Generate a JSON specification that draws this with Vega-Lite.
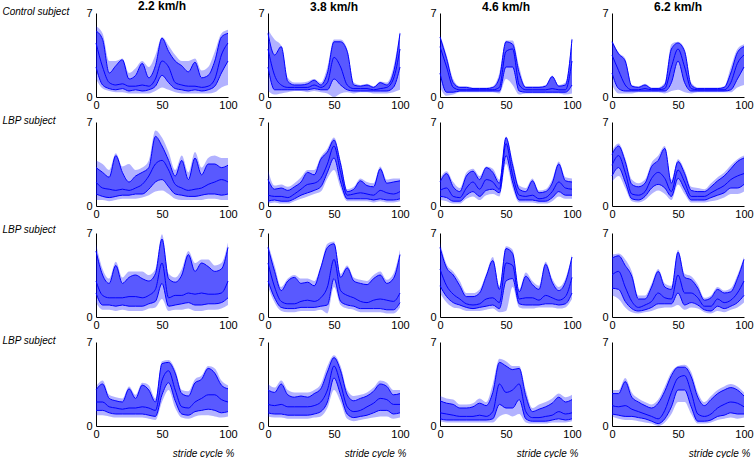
{
"$schema":"https://vega.github.io/schema/vega-lite/v6.json",
"padding":{"left":2,"top":0,"right":0,"bottom":0},
"background":"white",
"data":{"values":[
{"r":1,"c":1,"x":0,"lo":1.5,"hi":5.9,"p":5.5,"m":4.5,"s":2.5},
{"r":1,"c":1,"x":5,"lo":0.7,"hi":5.3,"p":4.8,"m":2.5,"s":1.0},
{"r":1,"c":1,"x":10,"lo":0.5,"hi":3.0,"p":2.0,"m":1.2,"s":0.7},
{"r":1,"c":1,"x":15,"lo":0.4,"hi":3.0,"p":2.6,"m":1.0,"s":0.6},
{"r":1,"c":1,"x":20,"lo":0.4,"hi":3.2,"p":3.1,"m":1.1,"s":0.7},
{"r":1,"c":1,"x":25,"lo":0.3,"hi":2.0,"p":1.5,"m":0.9,"s":0.5},
{"r":1,"c":1,"x":30,"lo":0.3,"hi":2.4,"p":1.8,"m":0.9,"s":0.6},
{"r":1,"c":1,"x":35,"lo":0.3,"hi":3.0,"p":2.8,"m":1.0,"s":0.5},
{"r":1,"c":1,"x":40,"lo":0.3,"hi":2.5,"p":1.6,"m":0.9,"s":0.6},
{"r":1,"c":1,"x":45,"lo":0.5,"hi":3.5,"p":2.6,"m":1.5,"s":0.9},
{"r":1,"c":1,"x":50,"lo":0.8,"hi":5.0,"p":4.9,"m":3.0,"s":1.8},
{"r":1,"c":1,"x":55,"lo":0.6,"hi":4.3,"p":3.8,"m":2.5,"s":1.2},
{"r":1,"c":1,"x":60,"lo":0.4,"hi":3.5,"p":3.0,"m":1.2,"s":0.7},
{"r":1,"c":1,"x":65,"lo":0.3,"hi":3.0,"p":2.6,"m":1.0,"s":0.6},
{"r":1,"c":1,"x":70,"lo":0.3,"hi":3.0,"p":2.1,"m":0.9,"s":0.5},
{"r":1,"c":1,"x":75,"lo":0.3,"hi":3.2,"p":2.9,"m":0.9,"s":0.6},
{"r":1,"c":1,"x":80,"lo":0.3,"hi":2.2,"p":1.6,"m":0.8,"s":0.5},
{"r":1,"c":1,"x":85,"lo":0.3,"hi":2.5,"p":1.8,"m":0.9,"s":0.6},
{"r":1,"c":1,"x":90,"lo":0.4,"hi":3.8,"p":3.0,"m":1.5,"s":0.9},
{"r":1,"c":1,"x":95,"lo":0.8,"hi":5.3,"p":5.0,"m":3.5,"s":2.0},
{"r":1,"c":1,"x":100,"lo":1.0,"hi":5.6,"p":5.3,"m":4.5,"s":3.0},
{"r":1,"c":2,"x":0,"lo":0.5,"hi":5.6,"p":5.3,"m":4.0,"s":2.5},
{"r":1,"c":2,"x":5,"lo":0.2,"hi":4.8,"p":3.5,"m":1.8,"s":0.6},
{"r":1,"c":2,"x":10,"lo":0.3,"hi":4.3,"p":4.2,"m":1.0,"s":0.6},
{"r":1,"c":2,"x":15,"lo":0.4,"hi":1.6,"p":1.3,"m":0.8,"s":0.6},
{"r":1,"c":2,"x":20,"lo":0.5,"hi":1.2,"p":1.0,"m":0.8,"s":0.6},
{"r":1,"c":2,"x":25,"lo":0.5,"hi":1.2,"p":1.0,"m":0.8,"s":0.6},
{"r":1,"c":2,"x":30,"lo":0.4,"hi":1.3,"p":1.1,"m":0.8,"s":0.6},
{"r":1,"c":2,"x":35,"lo":0.5,"hi":1.5,"p":1.4,"m":1.0,"s":0.7},
{"r":1,"c":2,"x":40,"lo":0.4,"hi":1.2,"p":1.0,"m":0.8,"s":0.6},
{"r":1,"c":2,"x":45,"lo":0.3,"hi":2.5,"p":2.0,"m":1.2,"s":0.6},
{"r":1,"c":2,"x":50,"lo":0.0,"hi":4.8,"p":4.6,"m":3.3,"s":1.5},
{"r":1,"c":2,"x":55,"lo":0.3,"hi":4.8,"p":4.6,"m":2.5,"s":1.0},
{"r":1,"c":2,"x":60,"lo":0.4,"hi":4.0,"p":3.8,"m":1.0,"s":0.6},
{"r":1,"c":2,"x":65,"lo":0.3,"hi":1.2,"p":1.0,"m":0.7,"s":0.5},
{"r":1,"c":2,"x":70,"lo":0.4,"hi":1.0,"p":0.9,"m":0.7,"s":0.5},
{"r":1,"c":2,"x":75,"lo":0.4,"hi":1.1,"p":1.0,"m":0.7,"s":0.5},
{"r":1,"c":2,"x":80,"lo":0.3,"hi":0.9,"p":0.8,"m":0.6,"s":0.5},
{"r":1,"c":2,"x":85,"lo":0.3,"hi":1.3,"p":1.2,"m":0.7,"s":0.5},
{"r":1,"c":2,"x":90,"lo":0.3,"hi":1.2,"p":1.0,"m":0.8,"s":0.5},
{"r":1,"c":2,"x":95,"lo":0.4,"hi":2.5,"p":2.0,"m":1.5,"s":0.8},
{"r":1,"c":2,"x":100,"lo":0.6,"hi":5.5,"p":5.3,"m":4.0,"s":2.5},
{"r":1,"c":3,"x":0,"lo":0.8,"hi":5.2,"p":5.0,"m":4.2,"s":2.0},
{"r":1,"c":3,"x":5,"lo":0.1,"hi":3.5,"p":3.2,"m":2.5,"s":0.4},
{"r":1,"c":3,"x":10,"lo":0.2,"hi":1.5,"p":1.2,"m":0.8,"s":0.4},
{"r":1,"c":3,"x":15,"lo":0.4,"hi":0.9,"p":0.8,"m":0.6,"s":0.5},
{"r":1,"c":3,"x":20,"lo":0.4,"hi":0.9,"p":0.8,"m":0.6,"s":0.5},
{"r":1,"c":3,"x":25,"lo":0.4,"hi":0.8,"p":0.7,"m":0.6,"s":0.5},
{"r":1,"c":3,"x":30,"lo":0.4,"hi":0.8,"p":0.7,"m":0.6,"s":0.5},
{"r":1,"c":3,"x":35,"lo":0.4,"hi":0.8,"p":0.7,"m":0.6,"s":0.5},
{"r":1,"c":3,"x":40,"lo":0.4,"hi":0.9,"p":0.8,"m":0.6,"s":0.5},
{"r":1,"c":3,"x":45,"lo":0.3,"hi":2.0,"p":1.6,"m":0.8,"s":0.5},
{"r":1,"c":3,"x":50,"lo":1.5,"hi":4.7,"p":4.6,"m":3.8,"s":2.5},
{"r":1,"c":3,"x":55,"lo":1.0,"hi":4.7,"p":4.4,"m":4.0,"s":2.5},
{"r":1,"c":3,"x":60,"lo":0.2,"hi":2.5,"p":2.0,"m":1.0,"s":0.5},
{"r":1,"c":3,"x":65,"lo":0.3,"hi":0.9,"p":0.8,"m":0.6,"s":0.4},
{"r":1,"c":3,"x":70,"lo":0.3,"hi":0.9,"p":0.8,"m":0.6,"s":0.4},
{"r":1,"c":3,"x":75,"lo":0.3,"hi":0.9,"p":0.8,"m":0.6,"s":0.4},
{"r":1,"c":3,"x":80,"lo":0.3,"hi":1.0,"p":0.9,"m":0.6,"s":0.4},
{"r":1,"c":3,"x":85,"lo":0.3,"hi":1.8,"p":1.7,"m":0.7,"s":0.4},
{"r":1,"c":3,"x":90,"lo":0.3,"hi":1.0,"p":0.9,"m":0.6,"s":0.4},
{"r":1,"c":3,"x":95,"lo":0.2,"hi":1.2,"p":1.0,"m":0.6,"s":0.4},
{"r":1,"c":3,"x":100,"lo":0.3,"hi":5.0,"p":4.8,"m":3.0,"s":1.0},
{"r":1,"c":4,"x":0,"lo":1.0,"hi":4.8,"p":4.6,"m":3.5,"s":2.0},
{"r":1,"c":4,"x":5,"lo":0.3,"hi":3.7,"p":3.6,"m":2.2,"s":0.7},
{"r":1,"c":4,"x":10,"lo":0.3,"hi":3.2,"p":3.0,"m":1.0,"s":0.5},
{"r":1,"c":4,"x":15,"lo":0.3,"hi":1.0,"p":0.9,"m":0.6,"s":0.5},
{"r":1,"c":4,"x":20,"lo":0.4,"hi":0.9,"p":0.8,"m":0.6,"s":0.5},
{"r":1,"c":4,"x":25,"lo":0.4,"hi":1.1,"p":1.0,"m":0.7,"s":0.5},
{"r":1,"c":4,"x":30,"lo":0.4,"hi":0.8,"p":0.7,"m":0.6,"s":0.5},
{"r":1,"c":4,"x":35,"lo":0.4,"hi":0.8,"p":0.7,"m":0.6,"s":0.5},
{"r":1,"c":4,"x":40,"lo":0.3,"hi":1.2,"p":1.0,"m":0.7,"s":0.5},
{"r":1,"c":4,"x":45,"lo":0.5,"hi":4.4,"p":4.0,"m":2.5,"s":1.2},
{"r":1,"c":4,"x":50,"lo":0.6,"hi":4.6,"p":4.5,"m":4.0,"s":3.0},
{"r":1,"c":4,"x":55,"lo":0.4,"hi":4.0,"p":3.8,"m":2.5,"s":1.2},
{"r":1,"c":4,"x":60,"lo":0.3,"hi":1.2,"p":1.0,"m":0.7,"s":0.5},
{"r":1,"c":4,"x":65,"lo":0.4,"hi":0.8,"p":0.7,"m":0.6,"s":0.5},
{"r":1,"c":4,"x":70,"lo":0.4,"hi":0.8,"p":0.7,"m":0.6,"s":0.5},
{"r":1,"c":4,"x":75,"lo":0.4,"hi":0.8,"p":0.7,"m":0.6,"s":0.5},
{"r":1,"c":4,"x":80,"lo":0.4,"hi":0.8,"p":0.7,"m":0.6,"s":0.5},
{"r":1,"c":4,"x":85,"lo":0.4,"hi":0.9,"p":0.8,"m":0.6,"s":0.5},
{"r":1,"c":4,"x":90,"lo":0.4,"hi":2.5,"p":2.0,"m":1.2,"s":0.6},
{"r":1,"c":4,"x":95,"lo":0.8,"hi":4.0,"p":3.7,"m":2.8,"s":1.5},
{"r":1,"c":4,"x":100,"lo":1.0,"hi":4.4,"p":4.2,"m":3.5,"s":2.5},
{"r":2,"c":1,"x":0,"lo":0.5,"hi":3.8,"p":3.2,"m":2.0,"s":1.0},
{"r":2,"c":1,"x":5,"lo":0.5,"hi":3.5,"p":2.8,"m":1.5,"s":0.8},
{"r":2,"c":1,"x":10,"lo":0.4,"hi":3.0,"p":2.4,"m":1.4,"s":0.7},
{"r":2,"c":1,"x":15,"lo":0.5,"hi":4.4,"p":4.2,"m":1.3,"s":0.8},
{"r":2,"c":1,"x":20,"lo":0.6,"hi":3.3,"p":2.8,"m":1.4,"s":0.9},
{"r":2,"c":1,"x":25,"lo":0.6,"hi":3.5,"p":2.0,"m":1.3,"s":0.9},
{"r":2,"c":1,"x":30,"lo":0.6,"hi":3.0,"p":2.5,"m":1.5,"s":1.0},
{"r":2,"c":1,"x":35,"lo":0.7,"hi":3.2,"p":2.8,"m":1.8,"s":1.0},
{"r":2,"c":1,"x":40,"lo":0.9,"hi":3.8,"p":3.2,"m":2.5,"s":1.4},
{"r":2,"c":1,"x":45,"lo":1.2,"hi":6.3,"p":5.8,"m":3.5,"s":2.0},
{"r":2,"c":1,"x":50,"lo":1.3,"hi":5.7,"p":5.0,"m":3.8,"s":2.2},
{"r":2,"c":1,"x":55,"lo":1.0,"hi":4.5,"p":3.8,"m":3.0,"s":1.6},
{"r":2,"c":1,"x":60,"lo":0.6,"hi":3.0,"p":2.5,"m":1.8,"s":1.0},
{"r":2,"c":1,"x":65,"lo":0.5,"hi":4.2,"p":3.8,"m":1.5,"s":0.9},
{"r":2,"c":1,"x":70,"lo":0.5,"hi":2.8,"p":2.2,"m":1.3,"s":0.8},
{"r":2,"c":1,"x":75,"lo":0.5,"hi":4.5,"p":4.0,"m":1.4,"s":0.8},
{"r":2,"c":1,"x":80,"lo":0.5,"hi":3.2,"p":2.6,"m":1.5,"s":0.9},
{"r":2,"c":1,"x":85,"lo":0.6,"hi":4.0,"p":3.5,"m":1.8,"s":1.0},
{"r":2,"c":1,"x":90,"lo":0.6,"hi":4.2,"p":3.5,"m":2.0,"s":1.0},
{"r":2,"c":1,"x":95,"lo":0.5,"hi":4.0,"p":3.2,"m":2.2,"s":0.9},
{"r":2,"c":1,"x":100,"lo":0.5,"hi":4.0,"p":3.4,"m":2.0,"s":1.0},
{"r":2,"c":2,"x":0,"lo":0.2,"hi":3.0,"p":2.2,"m":0.9,"s":0.4},
{"r":2,"c":2,"x":5,"lo":0.3,"hi":1.7,"p":1.4,"m":0.8,"s":0.5},
{"r":2,"c":2,"x":10,"lo":0.2,"hi":1.8,"p":1.5,"m":0.8,"s":0.4},
{"r":2,"c":2,"x":15,"lo":0.2,"hi":1.6,"p":1.3,"m":0.7,"s":0.4},
{"r":2,"c":2,"x":20,"lo":0.4,"hi":1.9,"p":1.6,"m":1.0,"s":0.6},
{"r":2,"c":2,"x":25,"lo":0.6,"hi":2.4,"p":2.0,"m":1.4,"s":0.9},
{"r":2,"c":2,"x":30,"lo":0.8,"hi":3.0,"p":2.8,"m":1.8,"s":1.1},
{"r":2,"c":2,"x":35,"lo":1.0,"hi":3.0,"p":2.6,"m":1.9,"s":1.3},
{"r":2,"c":2,"x":40,"lo":1.2,"hi":4.1,"p":3.9,"m":2.3,"s":1.6},
{"r":2,"c":2,"x":45,"lo":2.3,"hi":4.8,"p":4.5,"m":3.5,"s":2.8},
{"r":2,"c":2,"x":50,"lo":3.0,"hi":5.7,"p":5.5,"m":5.0,"s":4.0},
{"r":2,"c":2,"x":55,"lo":1.5,"hi":3.8,"p":3.5,"m":2.8,"s":2.0},
{"r":2,"c":2,"x":60,"lo":0.4,"hi":1.4,"p":1.2,"m":0.9,"s":0.6},
{"r":2,"c":2,"x":65,"lo":0.4,"hi":1.6,"p":1.4,"m":1.0,"s":0.6},
{"r":2,"c":2,"x":70,"lo":0.4,"hi":2.3,"p":2.1,"m":1.1,"s":0.6},
{"r":2,"c":2,"x":75,"lo":0.4,"hi":2.0,"p":1.7,"m":1.0,"s":0.6},
{"r":2,"c":2,"x":80,"lo":0.3,"hi":1.9,"p":1.6,"m":0.9,"s":0.5},
{"r":2,"c":2,"x":85,"lo":0.4,"hi":3.3,"p":3.1,"m":1.3,"s":0.6},
{"r":2,"c":2,"x":90,"lo":0.3,"hi":2.2,"p":1.9,"m":1.1,"s":0.5},
{"r":2,"c":2,"x":95,"lo":0.3,"hi":2.3,"p":2.0,"m":1.0,"s":0.5},
{"r":2,"c":2,"x":100,"lo":0.4,"hi":2.3,"p":2.1,"m":1.2,"s":0.6},
{"r":2,"c":3,"x":0,"lo":0.5,"hi":2.3,"p":2.0,"m":1.3,"s":0.8},
{"r":2,"c":3,"x":5,"lo":0.4,"hi":2.9,"p":2.7,"m":1.5,"s":0.7},
{"r":2,"c":3,"x":10,"lo":0.2,"hi":2.0,"p":1.6,"m":0.8,"s":0.4},
{"r":2,"c":3,"x":15,"lo":0.2,"hi":1.5,"p":1.2,"m":0.7,"s":0.4},
{"r":2,"c":3,"x":20,"lo":0.6,"hi":2.8,"p":2.5,"m":1.5,"s":0.9},
{"r":2,"c":3,"x":25,"lo":0.8,"hi":3.1,"p":2.9,"m":2.0,"s":1.2},
{"r":2,"c":3,"x":30,"lo":0.5,"hi":2.5,"p":2.2,"m":1.4,"s":0.8},
{"r":2,"c":3,"x":35,"lo":0.9,"hi":3.3,"p":3.2,"m":2.2,"s":1.3},
{"r":2,"c":3,"x":40,"lo":1.0,"hi":3.1,"p":2.8,"m":2.0,"s":1.4},
{"r":2,"c":3,"x":45,"lo":0.8,"hi":2.2,"p":1.9,"m":1.4,"s":1.1},
{"r":2,"c":3,"x":50,"lo":3.5,"hi":5.8,"p":5.7,"m":5.2,"s":4.2},
{"r":2,"c":3,"x":55,"lo":1.5,"hi":3.8,"p":3.4,"m":2.6,"s":2.0},
{"r":2,"c":3,"x":60,"lo":0.3,"hi":1.7,"p":1.4,"m":0.9,"s":0.5},
{"r":2,"c":3,"x":65,"lo":0.3,"hi":1.5,"p":1.2,"m":0.8,"s":0.5},
{"r":2,"c":3,"x":70,"lo":0.3,"hi":2.3,"p":2.1,"m":0.9,"s":0.5},
{"r":2,"c":3,"x":75,"lo":0.2,"hi":1.3,"p":1.1,"m":0.6,"s":0.4},
{"r":2,"c":3,"x":80,"lo":0.2,"hi":1.4,"p":1.2,"m":0.7,"s":0.4},
{"r":2,"c":3,"x":85,"lo":0.4,"hi":2.2,"p":1.9,"m":1.2,"s":0.7},
{"r":2,"c":3,"x":90,"lo":0.8,"hi":3.7,"p":3.5,"m":2.0,"s":1.2},
{"r":2,"c":3,"x":95,"lo":0.6,"hi":2.4,"p":2.1,"m":1.5,"s":0.9},
{"r":2,"c":3,"x":100,"lo":0.6,"hi":2.3,"p":2.0,"m":1.4,"s":0.9},
{"r":2,"c":4,"x":0,"lo":2.0,"hi":4.6,"p":4.3,"m":3.4,"s":2.5},
{"r":2,"c":4,"x":5,"lo":2.5,"hi":5.2,"p":5.0,"m":4.2,"s":3.2},
{"r":2,"c":4,"x":10,"lo":1.5,"hi":4.0,"p":3.7,"m":2.8,"s":2.0},
{"r":2,"c":4,"x":15,"lo":0.4,"hi":2.2,"p":1.8,"m":1.0,"s":0.6},
{"r":2,"c":4,"x":20,"lo":0.3,"hi":1.9,"p":1.6,"m":0.9,"s":0.5},
{"r":2,"c":4,"x":25,"lo":0.5,"hi":2.2,"p":1.9,"m":1.2,"s":0.8},
{"r":2,"c":4,"x":30,"lo":1.0,"hi":3.6,"p":3.3,"m":2.3,"s":1.5},
{"r":2,"c":4,"x":35,"lo":1.3,"hi":4.2,"p":3.8,"m":2.8,"s":1.8},
{"r":2,"c":4,"x":40,"lo":1.0,"hi":5.0,"p":4.8,"m":2.3,"s":1.5},
{"r":2,"c":4,"x":45,"lo":0.5,"hi":2.2,"p":1.9,"m":1.2,"s":0.8},
{"r":2,"c":4,"x":50,"lo":1.8,"hi":3.9,"p":3.7,"m":3.0,"s":2.3},
{"r":2,"c":4,"x":55,"lo":1.0,"hi":3.0,"p":2.7,"m":2.0,"s":1.4},
{"r":2,"c":4,"x":60,"lo":0.3,"hi":1.6,"p":1.3,"m":0.8,"s":0.5},
{"r":2,"c":4,"x":65,"lo":0.3,"hi":1.5,"p":1.2,"m":0.8,"s":0.5},
{"r":2,"c":4,"x":70,"lo":0.3,"hi":1.4,"p":1.2,"m":0.8,"s":0.5},
{"r":2,"c":4,"x":75,"lo":0.4,"hi":1.9,"p":1.6,"m":1.1,"s":0.7},
{"r":2,"c":4,"x":80,"lo":0.5,"hi":2.4,"p":2.1,"m":1.4,"s":0.9},
{"r":2,"c":4,"x":85,"lo":0.7,"hi":2.8,"p":2.5,"m":1.7,"s":1.1},
{"r":2,"c":4,"x":90,"lo":1.0,"hi":3.4,"p":3.1,"m":2.2,"s":1.5},
{"r":2,"c":4,"x":95,"lo":1.0,"hi":3.9,"p":3.7,"m":2.5,"s":1.5},
{"r":2,"c":4,"x":100,"lo":1.2,"hi":4.2,"p":4.0,"m":2.7,"s":1.8},
{"r":3,"c":1,"x":0,"lo":1.2,"hi":6.1,"p":5.5,"m":3.0,"s":2.0},
{"r":3,"c":1,"x":5,"lo":0.6,"hi":4.0,"p":3.5,"m":1.8,"s":1.0},
{"r":3,"c":1,"x":10,"lo":0.6,"hi":3.2,"p":2.8,"m":1.6,"s":1.0},
{"r":3,"c":1,"x":15,"lo":0.5,"hi":4.6,"p":4.3,"m":1.6,"s":0.9},
{"r":3,"c":1,"x":20,"lo":0.6,"hi":3.3,"p":2.8,"m":1.6,"s":1.0},
{"r":3,"c":1,"x":25,"lo":0.5,"hi":3.8,"p":3.3,"m":1.7,"s":0.9},
{"r":3,"c":1,"x":30,"lo":0.5,"hi":3.8,"p":3.5,"m":1.7,"s":0.9},
{"r":3,"c":1,"x":35,"lo":0.5,"hi":3.8,"p":3.2,"m":1.6,"s":0.9},
{"r":3,"c":1,"x":40,"lo":0.7,"hi":3.5,"p":3.0,"m":1.8,"s":1.1},
{"r":3,"c":1,"x":45,"lo":0.8,"hi":4.0,"p":3.6,"m":2.3,"s":1.3},
{"r":3,"c":1,"x":50,"lo":1.5,"hi":6.9,"p":6.5,"m":4.5,"s":2.8},
{"r":3,"c":1,"x":55,"lo":0.5,"hi":3.6,"p":3.2,"m":1.6,"s":0.9},
{"r":3,"c":1,"x":60,"lo":0.6,"hi":3.3,"p":2.9,"m":1.8,"s":1.0},
{"r":3,"c":1,"x":65,"lo":0.6,"hi":4.0,"p":3.5,"m":1.8,"s":1.1},
{"r":3,"c":1,"x":70,"lo":0.7,"hi":5.5,"p":5.2,"m":2.0,"s":1.2},
{"r":3,"c":1,"x":75,"lo":0.5,"hi":4.5,"p":3.8,"m":1.9,"s":1.0},
{"r":3,"c":1,"x":80,"lo":0.5,"hi":4.8,"p":4.5,"m":2.0,"s":1.0},
{"r":3,"c":1,"x":85,"lo":0.6,"hi":4.8,"p":4.2,"m":1.9,"s":1.1},
{"r":3,"c":1,"x":90,"lo":0.6,"hi":4.3,"p":3.8,"m":1.9,"s":1.1},
{"r":3,"c":1,"x":95,"lo":0.7,"hi":4.5,"p":4.0,"m":2.0,"s":1.2},
{"r":3,"c":1,"x":100,"lo":1.0,"hi":6.2,"p":5.8,"m":3.0,"s":1.6},
{"r":3,"c":2,"x":0,"lo":2.5,"hi":6.1,"p":5.8,"m":4.5,"s":3.0},
{"r":3,"c":2,"x":5,"lo":1.2,"hi":4.3,"p":3.8,"m":2.5,"s":1.6},
{"r":3,"c":2,"x":10,"lo":0.5,"hi":2.5,"p":2.2,"m":1.3,"s":0.8},
{"r":3,"c":2,"x":15,"lo":0.4,"hi":3.2,"p":3.0,"m":1.1,"s":0.7},
{"r":3,"c":2,"x":20,"lo":0.4,"hi":3.5,"p":3.3,"m":1.1,"s":0.7},
{"r":3,"c":2,"x":25,"lo":0.5,"hi":3.2,"p":2.8,"m":1.3,"s":0.8},
{"r":3,"c":2,"x":30,"lo":0.5,"hi":3.2,"p":2.9,"m":1.4,"s":0.8},
{"r":3,"c":2,"x":35,"lo":0.5,"hi":3.0,"p":2.6,"m":1.3,"s":0.8},
{"r":3,"c":2,"x":40,"lo":0.6,"hi":4.3,"p":4.1,"m":1.6,"s":0.9},
{"r":3,"c":2,"x":45,"lo":0.3,"hi":6.1,"p":5.8,"m":2.5,"s":1.0},
{"r":3,"c":2,"x":50,"lo":2.5,"hi":6.3,"p":6.1,"m":4.8,"s":3.2},
{"r":3,"c":2,"x":55,"lo":1.0,"hi":3.6,"p":3.3,"m":2.2,"s":1.3},
{"r":3,"c":2,"x":60,"lo":0.7,"hi":4.3,"p":4.1,"m":1.8,"s":1.0},
{"r":3,"c":2,"x":65,"lo":0.6,"hi":3.3,"p":3.0,"m":1.6,"s":0.9},
{"r":3,"c":2,"x":70,"lo":0.4,"hi":3.1,"p":2.8,"m":1.3,"s":0.7},
{"r":3,"c":2,"x":75,"lo":0.4,"hi":3.0,"p":2.7,"m":1.2,"s":0.7},
{"r":3,"c":2,"x":80,"lo":0.4,"hi":3.5,"p":3.2,"m":1.4,"s":0.7},
{"r":3,"c":2,"x":85,"lo":0.4,"hi":3.8,"p":3.5,"m":1.5,"s":0.7},
{"r":3,"c":2,"x":90,"lo":0.3,"hi":3.1,"p":2.8,"m":1.4,"s":0.6},
{"r":3,"c":2,"x":95,"lo":0.3,"hi":3.6,"p":3.2,"m":1.3,"s":0.6},
{"r":3,"c":2,"x":100,"lo":0.8,"hi":5.6,"p":5.2,"m":2.0,"s":1.2},
{"r":3,"c":3,"x":0,"lo":2.0,"hi":6.2,"p":5.8,"m":4.0,"s":2.6},
{"r":3,"c":3,"x":5,"lo":1.2,"hi":4.4,"p":4.1,"m":2.6,"s":1.7},
{"r":3,"c":3,"x":10,"lo":0.8,"hi":3.8,"p":3.5,"m":1.9,"s":1.2},
{"r":3,"c":3,"x":15,"lo":0.7,"hi":3.0,"p":2.6,"m":1.5,"s":1.0},
{"r":3,"c":3,"x":20,"lo":0.5,"hi":2.0,"p":1.7,"m":1.1,"s":0.8},
{"r":3,"c":3,"x":25,"lo":0.5,"hi":2.0,"p":1.7,"m":1.0,"s":0.7},
{"r":3,"c":3,"x":30,"lo":0.5,"hi":2.3,"p":2.0,"m":1.1,"s":0.8},
{"r":3,"c":3,"x":35,"lo":0.6,"hi":3.6,"p":3.4,"m":1.5,"s":0.9},
{"r":3,"c":3,"x":40,"lo":0.7,"hi":5.0,"p":4.7,"m":1.6,"s":1.0},
{"r":3,"c":3,"x":45,"lo":0.4,"hi":2.6,"p":2.3,"m":1.2,"s":0.7},
{"r":3,"c":3,"x":50,"lo":0.5,"hi":5.9,"p":5.7,"m":4.5,"s":3.0},
{"r":3,"c":3,"x":55,"lo":2.5,"hi":5.6,"p":5.3,"m":4.3,"s":3.2},
{"r":3,"c":3,"x":60,"lo":0.8,"hi":2.3,"p":2.1,"m":1.5,"s":1.1},
{"r":3,"c":3,"x":65,"lo":0.7,"hi":3.7,"p":3.4,"m":1.6,"s":1.0},
{"r":3,"c":3,"x":70,"lo":0.7,"hi":3.0,"p":2.7,"m":1.6,"s":1.0},
{"r":3,"c":3,"x":75,"lo":0.8,"hi":2.6,"p":2.3,"m":1.4,"s":1.0},
{"r":3,"c":3,"x":80,"lo":0.8,"hi":4.6,"p":4.4,"m":1.8,"s":1.1},
{"r":3,"c":3,"x":85,"lo":0.8,"hi":3.2,"p":2.9,"m":1.6,"s":1.1},
{"r":3,"c":3,"x":90,"lo":0.7,"hi":2.5,"p":2.2,"m":1.4,"s":1.0},
{"r":3,"c":3,"x":95,"lo":0.8,"hi":3.2,"p":2.9,"m":1.7,"s":1.1},
{"r":3,"c":3,"x":100,"lo":1.5,"hi":5.2,"p":5.0,"m":3.3,"s":2.0},
{"r":3,"c":4,"x":0,"lo":1.8,"hi":5.2,"p":4.9,"m":3.5,"s":2.4},
{"r":3,"c":4,"x":5,"lo":1.5,"hi":5.3,"p":5.1,"m":3.8,"s":2.3},
{"r":3,"c":4,"x":10,"lo":0.8,"hi":4.8,"p":4.3,"m":2.5,"s":1.3},
{"r":3,"c":4,"x":15,"lo":0.4,"hi":3.8,"p":3.4,"m":1.3,"s":0.7},
{"r":3,"c":4,"x":20,"lo":0.3,"hi":1.8,"p":1.5,"m":0.8,"s":0.5},
{"r":3,"c":4,"x":25,"lo":0.4,"hi":1.8,"p":1.5,"m":1.0,"s":0.6},
{"r":3,"c":4,"x":30,"lo":0.5,"hi":2.8,"p":2.5,"m":1.3,"s":0.8},
{"r":3,"c":4,"x":35,"lo":0.7,"hi":4.0,"p":3.8,"m":2.0,"s":1.1},
{"r":3,"c":4,"x":40,"lo":0.8,"hi":2.8,"p":2.5,"m":1.6,"s":1.1},
{"r":3,"c":4,"x":45,"lo":0.8,"hi":2.6,"p":2.3,"m":1.5,"s":1.1},
{"r":3,"c":4,"x":50,"lo":1.0,"hi":5.6,"p":5.4,"m":3.5,"s":2.0},
{"r":3,"c":4,"x":55,"lo":0.6,"hi":3.6,"p":3.3,"m":2.0,"s":1.0},
{"r":3,"c":4,"x":60,"lo":0.8,"hi":3.4,"p":3.1,"m":2.0,"s":1.2},
{"r":3,"c":4,"x":65,"lo":0.7,"hi":2.7,"p":2.4,"m":1.6,"s":1.0},
{"r":3,"c":4,"x":70,"lo":0.4,"hi":1.6,"p":1.4,"m":0.9,"s":0.6},
{"r":3,"c":4,"x":75,"lo":0.3,"hi":1.8,"p":1.6,"m":0.9,"s":0.5},
{"r":3,"c":4,"x":80,"lo":0.5,"hi":2.5,"p":2.3,"m":1.5,"s":0.9},
{"r":3,"c":4,"x":85,"lo":0.4,"hi":2.2,"p":2.0,"m":1.2,"s":0.7},
{"r":3,"c":4,"x":90,"lo":0.6,"hi":2.4,"p":2.1,"m":1.4,"s":0.9},
{"r":3,"c":4,"x":95,"lo":0.8,"hi":3.5,"p":3.2,"m":2.0,"s":1.2},
{"r":3,"c":4,"x":100,"lo":1.2,"hi":5.0,"p":4.8,"m":3.0,"s":1.8},
{"r":4,"c":1,"x":0,"lo":0.9,"hi":3.3,"p":3.0,"m":2.0,"s":1.3},
{"r":4,"c":1,"x":5,"lo":0.9,"hi":3.8,"p":3.5,"m":2.0,"s":1.3},
{"r":4,"c":1,"x":10,"lo":0.8,"hi":2.6,"p":2.3,"m":1.6,"s":1.1},
{"r":4,"c":1,"x":15,"lo":0.7,"hi":2.4,"p":2.1,"m":1.5,"s":1.0},
{"r":4,"c":1,"x":20,"lo":0.7,"hi":2.3,"p":2.0,"m":1.4,"s":1.0},
{"r":4,"c":1,"x":25,"lo":0.7,"hi":3.3,"p":3.1,"m":1.5,"s":1.0},
{"r":4,"c":1,"x":30,"lo":0.7,"hi":2.6,"p":2.3,"m":1.5,"s":1.0},
{"r":4,"c":1,"x":35,"lo":0.7,"hi":3.6,"p":3.4,"m":1.6,"s":1.0},
{"r":4,"c":1,"x":40,"lo":0.6,"hi":3.4,"p":3.0,"m":1.5,"s":0.9},
{"r":4,"c":1,"x":45,"lo":0.5,"hi":2.3,"p":2.0,"m":1.3,"s":0.8},
{"r":4,"c":1,"x":50,"lo":2.0,"hi":5.4,"p":5.2,"m":3.8,"s":2.6},
{"r":4,"c":1,"x":55,"lo":3.0,"hi":5.5,"p":5.3,"m":4.6,"s":3.6},
{"r":4,"c":1,"x":60,"lo":1.5,"hi":4.7,"p":4.4,"m":3.0,"s":2.1},
{"r":4,"c":1,"x":65,"lo":0.7,"hi":3.0,"p":2.7,"m":1.6,"s":1.0},
{"r":4,"c":1,"x":70,"lo":0.6,"hi":2.9,"p":2.5,"m":1.5,"s":0.9},
{"r":4,"c":1,"x":75,"lo":0.8,"hi":3.9,"p":3.6,"m":2.0,"s":1.2},
{"r":4,"c":1,"x":80,"lo":0.9,"hi":4.2,"p":3.9,"m":2.3,"s":1.3},
{"r":4,"c":1,"x":85,"lo":0.9,"hi":5.0,"p":4.8,"m":2.6,"s":1.4},
{"r":4,"c":1,"x":90,"lo":0.8,"hi":4.8,"p":4.4,"m":2.6,"s":1.3},
{"r":4,"c":1,"x":95,"lo":0.7,"hi":3.8,"p":3.4,"m":2.2,"s":1.1},
{"r":4,"c":1,"x":100,"lo":0.8,"hi":3.4,"p":3.1,"m":2.0,"s":1.2},
{"r":4,"c":2,"x":0,"lo":0.8,"hi":3.5,"p":3.0,"m":1.8,"s":1.1},
{"r":4,"c":2,"x":5,"lo":0.7,"hi":3.2,"p":2.8,"m":1.7,"s":1.0},
{"r":4,"c":2,"x":10,"lo":0.7,"hi":3.8,"p":3.5,"m":1.8,"s":1.0},
{"r":4,"c":2,"x":15,"lo":0.6,"hi":3.0,"p":2.6,"m":1.6,"s":0.9},
{"r":4,"c":2,"x":20,"lo":0.6,"hi":2.8,"p":2.4,"m":1.6,"s":0.9},
{"r":4,"c":2,"x":25,"lo":0.6,"hi":2.8,"p":2.5,"m":1.6,"s":0.9},
{"r":4,"c":2,"x":30,"lo":0.6,"hi":2.8,"p":2.4,"m":1.6,"s":0.9},
{"r":4,"c":2,"x":35,"lo":0.7,"hi":3.0,"p":2.7,"m":1.7,"s":1.0},
{"r":4,"c":2,"x":40,"lo":0.8,"hi":3.5,"p":3.1,"m":2.0,"s":1.2},
{"r":4,"c":2,"x":45,"lo":1.5,"hi":5.0,"p":4.5,"m":3.0,"s":2.0},
{"r":4,"c":2,"x":50,"lo":3.0,"hi":5.9,"p":5.7,"m":5.0,"s":4.0},
{"r":4,"c":2,"x":55,"lo":2.0,"hi":5.0,"p":4.6,"m":3.5,"s":2.6},
{"r":4,"c":2,"x":60,"lo":0.6,"hi":3.0,"p":2.6,"m":1.6,"s":1.0},
{"r":4,"c":2,"x":65,"lo":0.4,"hi":2.5,"p":2.1,"m":1.2,"s":0.7},
{"r":4,"c":2,"x":70,"lo":0.5,"hi":2.6,"p":2.3,"m":1.3,"s":0.8},
{"r":4,"c":2,"x":75,"lo":0.6,"hi":2.8,"p":2.5,"m":1.6,"s":0.9},
{"r":4,"c":2,"x":80,"lo":0.7,"hi":3.2,"p":2.9,"m":1.9,"s":1.1},
{"r":4,"c":2,"x":85,"lo":0.8,"hi":3.8,"p":3.5,"m":2.3,"s":1.3},
{"r":4,"c":2,"x":90,"lo":0.8,"hi":3.6,"p":3.3,"m":2.2,"s":1.3},
{"r":4,"c":2,"x":95,"lo":0.6,"hi":3.0,"p":2.6,"m":1.8,"s":1.0},
{"r":4,"c":2,"x":100,"lo":0.7,"hi":3.0,"p":2.7,"m":1.8,"s":1.1},
{"r":4,"c":3,"x":0,"lo":0.4,"hi":2.5,"p":2.1,"m":1.1,"s":0.6},
{"r":4,"c":3,"x":5,"lo":0.3,"hi":2.3,"p":1.9,"m":1.0,"s":0.5},
{"r":4,"c":3,"x":10,"lo":0.3,"hi":2.2,"p":1.8,"m":0.9,"s":0.5},
{"r":4,"c":3,"x":15,"lo":0.3,"hi":1.8,"p":1.5,"m":0.8,"s":0.5},
{"r":4,"c":3,"x":20,"lo":0.3,"hi":1.8,"p":1.5,"m":0.8,"s":0.5},
{"r":4,"c":3,"x":25,"lo":0.3,"hi":1.9,"p":1.6,"m":0.8,"s":0.5},
{"r":4,"c":3,"x":30,"lo":0.3,"hi":2.3,"p":1.9,"m":0.9,"s":0.5},
{"r":4,"c":3,"x":35,"lo":0.3,"hi":2.0,"p":1.7,"m":0.8,"s":0.5},
{"r":4,"c":3,"x":40,"lo":0.3,"hi":3.5,"p":2.8,"m":1.2,"s":0.6},
{"r":4,"c":3,"x":45,"lo":0.8,"hi":5.6,"p":5.3,"m":3.5,"s":1.8},
{"r":4,"c":3,"x":50,"lo":1.0,"hi":5.4,"p":5.0,"m":2.8,"s":1.5},
{"r":4,"c":3,"x":55,"lo":0.8,"hi":5.0,"p":4.7,"m":3.0,"s":1.5},
{"r":4,"c":3,"x":60,"lo":1.0,"hi":5.0,"p":4.8,"m":3.5,"s":2.2},
{"r":4,"c":3,"x":65,"lo":0.3,"hi":3.0,"p":2.5,"m":1.2,"s":0.6},
{"r":4,"c":3,"x":70,"lo":0.2,"hi":1.5,"p":1.2,"m":0.7,"s":0.4},
{"r":4,"c":3,"x":75,"lo":0.2,"hi":1.8,"p":1.4,"m":0.7,"s":0.4},
{"r":4,"c":3,"x":80,"lo":0.2,"hi":2.0,"p":1.6,"m":0.8,"s":0.4},
{"r":4,"c":3,"x":85,"lo":0.3,"hi":2.3,"p":1.9,"m":0.9,"s":0.5},
{"r":4,"c":3,"x":90,"lo":0.3,"hi":2.7,"p":2.4,"m":1.2,"s":0.6},
{"r":4,"c":3,"x":95,"lo":0.3,"hi":2.4,"p":2.0,"m":1.0,"s":0.5},
{"r":4,"c":3,"x":100,"lo":0.4,"hi":2.6,"p":2.2,"m":1.1,"s":0.6},
{"r":4,"c":4,"x":0,"lo":0.8,"hi":3.0,"p":2.7,"m":1.7,"s":1.0},
{"r":4,"c":4,"x":5,"lo":0.6,"hi":3.0,"p":2.7,"m":1.6,"s":0.9},
{"r":4,"c":4,"x":10,"lo":0.5,"hi":4.0,"p":3.7,"m":1.7,"s":0.8},
{"r":4,"c":4,"x":15,"lo":0.5,"hi":2.8,"p":2.4,"m":1.4,"s":0.8},
{"r":4,"c":4,"x":20,"lo":0.4,"hi":2.3,"p":2.0,"m":1.2,"s":0.7},
{"r":4,"c":4,"x":25,"lo":0.3,"hi":2.0,"p":1.7,"m":1.0,"s":0.6},
{"r":4,"c":4,"x":30,"lo":0.2,"hi":1.8,"p":1.5,"m":0.8,"s":0.4},
{"r":4,"c":4,"x":35,"lo":0.0,"hi":2.2,"p":1.9,"m":0.6,"s":0.2},
{"r":4,"c":4,"x":40,"lo":0.3,"hi":3.3,"p":2.9,"m":1.3,"s":0.6},
{"r":4,"c":4,"x":45,"lo":1.0,"hi":4.5,"p":4.2,"m":2.8,"s":1.6},
{"r":4,"c":4,"x":50,"lo":2.0,"hi":5.0,"p":4.9,"m":4.0,"s":3.0},
{"r":4,"c":4,"x":55,"lo":2.0,"hi":5.1,"p":4.9,"m":4.2,"s":3.0},
{"r":4,"c":4,"x":60,"lo":1.0,"hi":4.5,"p":4.1,"m":2.8,"s":1.6},
{"r":4,"c":4,"x":65,"lo":0.2,"hi":2.8,"p":2.4,"m":1.0,"s":0.4},
{"r":4,"c":4,"x":70,"lo":0.2,"hi":2.0,"p":1.7,"m":0.8,"s":0.4},
{"r":4,"c":4,"x":75,"lo":0.3,"hi":2.5,"p":2.2,"m":1.0,"s":0.5},
{"r":4,"c":4,"x":80,"lo":0.5,"hi":3.0,"p":2.7,"m":1.5,"s":0.8},
{"r":4,"c":4,"x":85,"lo":0.6,"hi":3.3,"p":3.0,"m":1.8,"s":0.9},
{"r":4,"c":4,"x":90,"lo":0.7,"hi":3.5,"p":3.2,"m":2.0,"s":1.1},
{"r":4,"c":4,"x":95,"lo":0.6,"hi":3.3,"p":3.0,"m":1.9,"s":1.0},
{"r":4,"c":4,"x":100,"lo":0.7,"hi":2.8,"p":2.5,"m":1.6,"s":1.0}
]},
"spacing":5,
"vconcat":[
{"spacing":19,"hconcat":[
{"title":"2.2 km/h","width":132,"height":84,"transform":[{"filter":"datum.r==1&&datum.c==1"}],"encoding":{"x":{"field":"x","type":"quantitative","scale":{"domain":[0,100],"nice":false},"axis":{"values":[0,50,100],"title":null}}},"layer":[{"mark":{"type":"area","opacity":0.3},"encoding":{"y":{"field":"lo","type":"quantitative","title":"Control subject","scale":{"domain":[0,7],"nice":false},"axis":{"values":[0,7],"titleAngle":0,"titleAlign":"left","titleBaseline":"middle","titleX":-94,"titleY":-2}},"y2":{"field":"hi"}}},{"mark":{"type":"area","opacity":0.5},"encoding":{"y":{"field":"s","type":"quantitative","title":"Control subject"},"y2":{"field":"p"}}},{"mark":"line","encoding":{"y":{"field":"p","type":"quantitative","title":"Control subject"}}},{"mark":"line","encoding":{"y":{"field":"m","type":"quantitative","title":"Control subject"}}},{"mark":"line","encoding":{"y":{"field":"s","type":"quantitative","title":"Control subject"}}}]},
{"title":"3.8 km/h","width":132,"height":84,"transform":[{"filter":"datum.r==1&&datum.c==2"}],"encoding":{"x":{"field":"x","type":"quantitative","scale":{"domain":[0,100],"nice":false},"axis":{"values":[0,50,100],"title":null}}},"layer":[{"mark":{"type":"area","opacity":0.3},"encoding":{"y":{"field":"lo","type":"quantitative","title":null,"scale":{"domain":[0,7],"nice":false},"axis":{"values":[0,7]}},"y2":{"field":"hi"}}},{"mark":{"type":"area","opacity":0.5},"encoding":{"y":{"field":"s","type":"quantitative","title":null},"y2":{"field":"p"}}},{"mark":"line","encoding":{"y":{"field":"p","type":"quantitative","title":null}}},{"mark":"line","encoding":{"y":{"field":"m","type":"quantitative","title":null}}},{"mark":"line","encoding":{"y":{"field":"s","type":"quantitative","title":null}}}]},
{"title":"4.6 km/h","width":132,"height":84,"transform":[{"filter":"datum.r==1&&datum.c==3"}],"encoding":{"x":{"field":"x","type":"quantitative","scale":{"domain":[0,100],"nice":false},"axis":{"values":[0,50,100],"title":null}}},"layer":[{"mark":{"type":"area","opacity":0.3},"encoding":{"y":{"field":"lo","type":"quantitative","title":null,"scale":{"domain":[0,7],"nice":false},"axis":{"values":[0,7]}},"y2":{"field":"hi"}}},{"mark":{"type":"area","opacity":0.5},"encoding":{"y":{"field":"s","type":"quantitative","title":null},"y2":{"field":"p"}}},{"mark":"line","encoding":{"y":{"field":"p","type":"quantitative","title":null}}},{"mark":"line","encoding":{"y":{"field":"m","type":"quantitative","title":null}}},{"mark":"line","encoding":{"y":{"field":"s","type":"quantitative","title":null}}}]},
{"title":"6.2 km/h","width":132,"height":84,"transform":[{"filter":"datum.r==1&&datum.c==4"}],"encoding":{"x":{"field":"x","type":"quantitative","scale":{"domain":[0,100],"nice":false},"axis":{"values":[0,50,100],"title":null}}},"layer":[{"mark":{"type":"area","opacity":0.3},"encoding":{"y":{"field":"lo","type":"quantitative","title":null,"scale":{"domain":[0,7],"nice":false},"axis":{"values":[0,7]}},"y2":{"field":"hi"}}},{"mark":{"type":"area","opacity":0.5},"encoding":{"y":{"field":"s","type":"quantitative","title":null},"y2":{"field":"p"}}},{"mark":"line","encoding":{"y":{"field":"p","type":"quantitative","title":null}}},{"mark":"line","encoding":{"y":{"field":"m","type":"quantitative","title":null}}},{"mark":"line","encoding":{"y":{"field":"s","type":"quantitative","title":null}}}]}
]},
{"spacing":19,"hconcat":[
{"width":132,"height":84,"transform":[{"filter":"datum.r==2&&datum.c==1"}],"encoding":{"x":{"field":"x","type":"quantitative","scale":{"domain":[0,100],"nice":false},"axis":{"values":[0,50,100],"title":null}}},"layer":[{"mark":{"type":"area","opacity":0.3},"encoding":{"y":{"field":"lo","type":"quantitative","title":"LBP subject","scale":{"domain":[0,7],"nice":false},"axis":{"values":[0,7],"titleAngle":0,"titleAlign":"left","titleBaseline":"middle","titleX":-94,"titleY":-2}},"y2":{"field":"hi"}}},{"mark":{"type":"area","opacity":0.5},"encoding":{"y":{"field":"s","type":"quantitative","title":"LBP subject"},"y2":{"field":"p"}}},{"mark":"line","encoding":{"y":{"field":"p","type":"quantitative","title":"LBP subject"}}},{"mark":"line","encoding":{"y":{"field":"m","type":"quantitative","title":"LBP subject"}}},{"mark":"line","encoding":{"y":{"field":"s","type":"quantitative","title":"LBP subject"}}}]},
{"width":132,"height":84,"transform":[{"filter":"datum.r==2&&datum.c==2"}],"encoding":{"x":{"field":"x","type":"quantitative","scale":{"domain":[0,100],"nice":false},"axis":{"values":[0,50,100],"title":null}}},"layer":[{"mark":{"type":"area","opacity":0.3},"encoding":{"y":{"field":"lo","type":"quantitative","title":null,"scale":{"domain":[0,7],"nice":false},"axis":{"values":[0,7]}},"y2":{"field":"hi"}}},{"mark":{"type":"area","opacity":0.5},"encoding":{"y":{"field":"s","type":"quantitative","title":null},"y2":{"field":"p"}}},{"mark":"line","encoding":{"y":{"field":"p","type":"quantitative","title":null}}},{"mark":"line","encoding":{"y":{"field":"m","type":"quantitative","title":null}}},{"mark":"line","encoding":{"y":{"field":"s","type":"quantitative","title":null}}}]},
{"width":132,"height":84,"transform":[{"filter":"datum.r==2&&datum.c==3"}],"encoding":{"x":{"field":"x","type":"quantitative","scale":{"domain":[0,100],"nice":false},"axis":{"values":[0,50,100],"title":null}}},"layer":[{"mark":{"type":"area","opacity":0.3},"encoding":{"y":{"field":"lo","type":"quantitative","title":null,"scale":{"domain":[0,7],"nice":false},"axis":{"values":[0,7]}},"y2":{"field":"hi"}}},{"mark":{"type":"area","opacity":0.5},"encoding":{"y":{"field":"s","type":"quantitative","title":null},"y2":{"field":"p"}}},{"mark":"line","encoding":{"y":{"field":"p","type":"quantitative","title":null}}},{"mark":"line","encoding":{"y":{"field":"m","type":"quantitative","title":null}}},{"mark":"line","encoding":{"y":{"field":"s","type":"quantitative","title":null}}}]},
{"width":132,"height":84,"transform":[{"filter":"datum.r==2&&datum.c==4"}],"encoding":{"x":{"field":"x","type":"quantitative","scale":{"domain":[0,100],"nice":false},"axis":{"values":[0,50,100],"title":null}}},"layer":[{"mark":{"type":"area","opacity":0.3},"encoding":{"y":{"field":"lo","type":"quantitative","title":null,"scale":{"domain":[0,7],"nice":false},"axis":{"values":[0,7]}},"y2":{"field":"hi"}}},{"mark":{"type":"area","opacity":0.5},"encoding":{"y":{"field":"s","type":"quantitative","title":null},"y2":{"field":"p"}}},{"mark":"line","encoding":{"y":{"field":"p","type":"quantitative","title":null}}},{"mark":"line","encoding":{"y":{"field":"m","type":"quantitative","title":null}}},{"mark":"line","encoding":{"y":{"field":"s","type":"quantitative","title":null}}}]}
]},
{"spacing":19,"hconcat":[
{"width":132,"height":84,"transform":[{"filter":"datum.r==3&&datum.c==1"}],"encoding":{"x":{"field":"x","type":"quantitative","scale":{"domain":[0,100],"nice":false},"axis":{"values":[0,50,100],"title":null}}},"layer":[{"mark":{"type":"area","opacity":0.3},"encoding":{"y":{"field":"lo","type":"quantitative","title":"LBP subject","scale":{"domain":[0,7],"nice":false},"axis":{"values":[0,7],"titleAngle":0,"titleAlign":"left","titleBaseline":"middle","titleX":-94,"titleY":-4}},"y2":{"field":"hi"}}},{"mark":{"type":"area","opacity":0.5},"encoding":{"y":{"field":"s","type":"quantitative","title":"LBP subject"},"y2":{"field":"p"}}},{"mark":"line","encoding":{"y":{"field":"p","type":"quantitative","title":"LBP subject"}}},{"mark":"line","encoding":{"y":{"field":"m","type":"quantitative","title":"LBP subject"}}},{"mark":"line","encoding":{"y":{"field":"s","type":"quantitative","title":"LBP subject"}}}]},
{"width":132,"height":84,"transform":[{"filter":"datum.r==3&&datum.c==2"}],"encoding":{"x":{"field":"x","type":"quantitative","scale":{"domain":[0,100],"nice":false},"axis":{"values":[0,50,100],"title":null}}},"layer":[{"mark":{"type":"area","opacity":0.3},"encoding":{"y":{"field":"lo","type":"quantitative","title":null,"scale":{"domain":[0,7],"nice":false},"axis":{"values":[0,7]}},"y2":{"field":"hi"}}},{"mark":{"type":"area","opacity":0.5},"encoding":{"y":{"field":"s","type":"quantitative","title":null},"y2":{"field":"p"}}},{"mark":"line","encoding":{"y":{"field":"p","type":"quantitative","title":null}}},{"mark":"line","encoding":{"y":{"field":"m","type":"quantitative","title":null}}},{"mark":"line","encoding":{"y":{"field":"s","type":"quantitative","title":null}}}]},
{"width":132,"height":84,"transform":[{"filter":"datum.r==3&&datum.c==3"}],"encoding":{"x":{"field":"x","type":"quantitative","scale":{"domain":[0,100],"nice":false},"axis":{"values":[0,50,100],"title":null}}},"layer":[{"mark":{"type":"area","opacity":0.3},"encoding":{"y":{"field":"lo","type":"quantitative","title":null,"scale":{"domain":[0,7],"nice":false},"axis":{"values":[0,7]}},"y2":{"field":"hi"}}},{"mark":{"type":"area","opacity":0.5},"encoding":{"y":{"field":"s","type":"quantitative","title":null},"y2":{"field":"p"}}},{"mark":"line","encoding":{"y":{"field":"p","type":"quantitative","title":null}}},{"mark":"line","encoding":{"y":{"field":"m","type":"quantitative","title":null}}},{"mark":"line","encoding":{"y":{"field":"s","type":"quantitative","title":null}}}]},
{"width":132,"height":84,"transform":[{"filter":"datum.r==3&&datum.c==4"}],"encoding":{"x":{"field":"x","type":"quantitative","scale":{"domain":[0,100],"nice":false},"axis":{"values":[0,50,100],"title":null}}},"layer":[{"mark":{"type":"area","opacity":0.3},"encoding":{"y":{"field":"lo","type":"quantitative","title":null,"scale":{"domain":[0,7],"nice":false},"axis":{"values":[0,7]}},"y2":{"field":"hi"}}},{"mark":{"type":"area","opacity":0.5},"encoding":{"y":{"field":"s","type":"quantitative","title":null},"y2":{"field":"p"}}},{"mark":"line","encoding":{"y":{"field":"p","type":"quantitative","title":null}}},{"mark":"line","encoding":{"y":{"field":"m","type":"quantitative","title":null}}},{"mark":"line","encoding":{"y":{"field":"s","type":"quantitative","title":null}}}]}
]},
{"spacing":19,"hconcat":[
{"width":132,"height":84,"transform":[{"filter":"datum.r==4&&datum.c==1"}],"encoding":{"x":{"field":"x","type":"quantitative","scale":{"domain":[0,100],"nice":false},"axis":{"values":[0,50,100],"title":"stride cycle %","titleAlign":"right","titleBaseline":"middle","titleX":138,"titleY":27}}},"layer":[{"mark":{"type":"area","opacity":0.3},"encoding":{"y":{"field":"lo","type":"quantitative","title":"LBP subject","scale":{"domain":[0,7],"nice":false},"axis":{"values":[0,7],"titleAngle":0,"titleAlign":"left","titleBaseline":"middle","titleX":-94,"titleY":-2}},"y2":{"field":"hi"}}},{"mark":{"type":"area","opacity":0.5},"encoding":{"y":{"field":"s","type":"quantitative","title":"LBP subject"},"y2":{"field":"p"}}},{"mark":"line","encoding":{"y":{"field":"p","type":"quantitative","title":"LBP subject"}}},{"mark":"line","encoding":{"y":{"field":"m","type":"quantitative","title":"LBP subject"}}},{"mark":"line","encoding":{"y":{"field":"s","type":"quantitative","title":"LBP subject"}}}]},
{"width":132,"height":84,"transform":[{"filter":"datum.r==4&&datum.c==2"}],"encoding":{"x":{"field":"x","type":"quantitative","scale":{"domain":[0,100],"nice":false},"axis":{"values":[0,50,100],"title":"stride cycle %","titleAlign":"right","titleBaseline":"middle","titleX":138,"titleY":27}}},"layer":[{"mark":{"type":"area","opacity":0.3},"encoding":{"y":{"field":"lo","type":"quantitative","title":null,"scale":{"domain":[0,7],"nice":false},"axis":{"values":[0,7]}},"y2":{"field":"hi"}}},{"mark":{"type":"area","opacity":0.5},"encoding":{"y":{"field":"s","type":"quantitative","title":null},"y2":{"field":"p"}}},{"mark":"line","encoding":{"y":{"field":"p","type":"quantitative","title":null}}},{"mark":"line","encoding":{"y":{"field":"m","type":"quantitative","title":null}}},{"mark":"line","encoding":{"y":{"field":"s","type":"quantitative","title":null}}}]},
{"width":132,"height":84,"transform":[{"filter":"datum.r==4&&datum.c==3"}],"encoding":{"x":{"field":"x","type":"quantitative","scale":{"domain":[0,100],"nice":false},"axis":{"values":[0,50,100],"title":"stride cycle %","titleAlign":"right","titleBaseline":"middle","titleX":138,"titleY":27}}},"layer":[{"mark":{"type":"area","opacity":0.3},"encoding":{"y":{"field":"lo","type":"quantitative","title":null,"scale":{"domain":[0,7],"nice":false},"axis":{"values":[0,7]}},"y2":{"field":"hi"}}},{"mark":{"type":"area","opacity":0.5},"encoding":{"y":{"field":"s","type":"quantitative","title":null},"y2":{"field":"p"}}},{"mark":"line","encoding":{"y":{"field":"p","type":"quantitative","title":null}}},{"mark":"line","encoding":{"y":{"field":"m","type":"quantitative","title":null}}},{"mark":"line","encoding":{"y":{"field":"s","type":"quantitative","title":null}}}]},
{"width":132,"height":84,"transform":[{"filter":"datum.r==4&&datum.c==4"}],"encoding":{"x":{"field":"x","type":"quantitative","scale":{"domain":[0,100],"nice":false},"axis":{"values":[0,50,100],"title":"stride cycle %","titleAlign":"right","titleBaseline":"middle","titleX":138,"titleY":27}}},"layer":[{"mark":{"type":"area","opacity":0.3},"encoding":{"y":{"field":"lo","type":"quantitative","title":null,"scale":{"domain":[0,7],"nice":false},"axis":{"values":[0,7]}},"y2":{"field":"hi"}}},{"mark":{"type":"area","opacity":0.5},"encoding":{"y":{"field":"s","type":"quantitative","title":null},"y2":{"field":"p"}}},{"mark":"line","encoding":{"y":{"field":"p","type":"quantitative","title":null}}},{"mark":"line","encoding":{"y":{"field":"m","type":"quantitative","title":null}}},{"mark":"line","encoding":{"y":{"field":"s","type":"quantitative","title":null}}}]}
]}
],
"config":{
"view":{"stroke":null},
"mark":{"color":"#0000ff"},
"line":{"interpolate":"monotone","strokeWidth":1,"color":"#0000ff"},
"area":{"interpolate":"monotone","color":"#0000ff"},
"axis":{"domainColor":"#000000","domainWidth":1,"ticks":false,"grid":false,"labelFont":"Liberation Sans","labelFontSize":11,"labelColor":"#000000","labelFlush":false,"titleFont":"Liberation Sans","titleFontSize":10,"titleFontStyle":"italic","titleFontWeight":"normal","titleColor":"#000000"},
"axisX":{"labelPadding":2},
"axisY":{"labelPadding":4},
"title":{"font":"Liberation Sans","fontSize":12,"fontWeight":"bold","color":"#000000","offset":-7,"frame":"group","anchor":"middle"}
}
}
